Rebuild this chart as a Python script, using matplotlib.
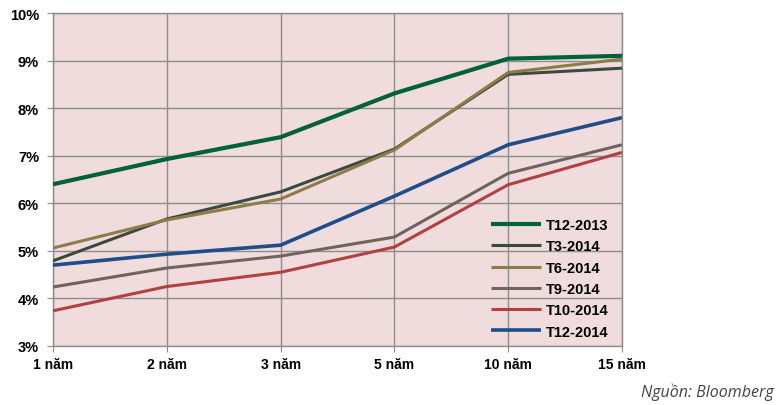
import matplotlib
matplotlib.use("Agg")
import matplotlib.pyplot as plt

categories = ["1 năm", "2 năm", "3 năm", "5 năm", "10 năm", "15 năm"]
t12_2013 = [6.40, 6.93, 7.39, 8.31, 9.04, 9.10]
t3_2014 = [4.79, 5.67, 6.24, 7.14, 8.71, 8.84]
t6_2014 = [5.06, 5.65, 6.09, 7.12, 8.75, 9.03]
t9_2014 = [4.24, 4.64, 4.89, 5.29, 6.63, 7.23]
t10_2014 = [3.74, 4.25, 4.55, 5.08, 6.39, 7.07]
t12_2014 = [4.70, 4.93, 5.12, 6.15, 7.23, 7.80]
yticks = [3, 4, 5, 6, 7, 8, 9, 10]

series = [
    ("T12-2013", t12_2013, "#00613a", 3.0),
    ("T3-2014", t3_2014, "#3b4a3e", 2.2),
    ("T6-2014", t6_2014, "#8c7c48", 2.2),
    ("T9-2014", t9_2014, "#6f645d", 2.2),
    ("T10-2014", t10_2014, "#b2403f", 2.2),
    ("T12-2014", t12_2014, "#1f4d8a", 2.6),
]

plt.rcParams['font.family'] = ['Liberation Sans', 'DejaVu Sans']
fig = plt.figure(figsize=(7.78, 4.06), dpi=100)
ax = fig.add_axes([53/778, 59/406, 569/778, 333/406])
ax.set_facecolor("#f0dcdc")

x = list(range(len(categories)))
for name, vals, col, lw in series:
    ax.plot(x, vals, color=col, lw=lw, label=name, solid_capstyle='butt', zorder=3)

ax.set_xlim(0, len(categories) - 1)
ax.set_ylim(3, 10)
ax.set_xticks(x)
ax.set_xticklabels(categories, fontsize=10, fontweight='bold')
ax.set_yticks(yticks)
ax.set_yticklabels([f"{v}%" for v in yticks], fontsize=10.5, fontweight='bold')
ax.grid(True, color="#8c8c8c", lw=1.0, zorder=1)
for s in ax.spines.values():
    s.set_color("#8c8c8c")
    s.set_linewidth(1.0)
ax.tick_params(axis='both', length=4, color="#8c8c8c")
ax.tick_params(axis='y', pad=6)
ax.tick_params(axis='x', pad=4)

leg = ax.legend(loc='lower right', bbox_to_anchor=(1.0, -0.017), frameon=False,
                handlelength=3.4, labelspacing=0.5, handletextpad=0.35,
                prop={'weight': 'bold', 'size': 10.5})

fig.text(0.994, 0.012, "Nguồn: Bloomberg", ha='right', va='bottom', fontsize=11.5,
         style='italic', color='#444444', family=['Open Sans', 'DejaVu Sans'])

fig.savefig("out.png", dpi=100)
